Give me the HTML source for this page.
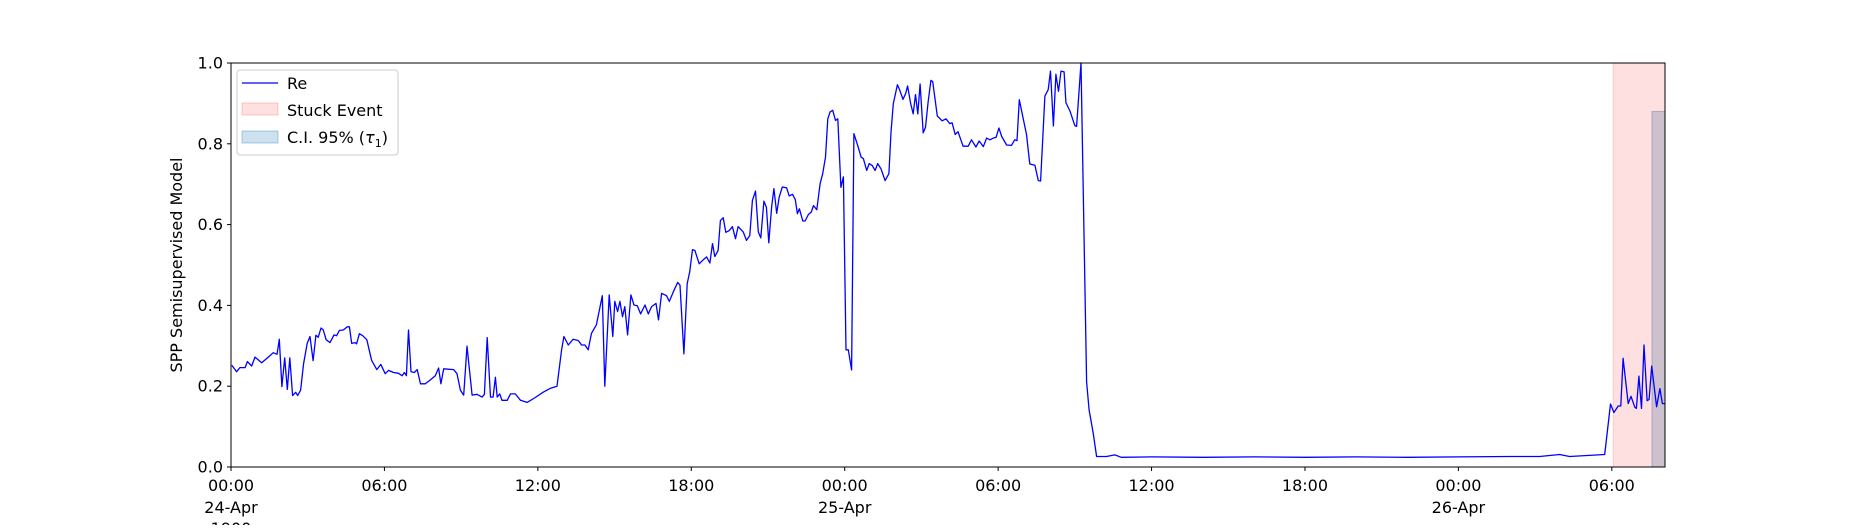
<!DOCTYPE html>
<html><head><meta charset="utf-8"><style>
html,body{margin:0;padding:0;background:#fff;}
svg text{font-family:"DejaVu Sans","Liberation Sans",sans-serif;fill:#000;}
</style></head><body>
<svg id="chart" width="1850" height="525" viewBox="0 0 1850 525" xmlns="http://www.w3.org/2000/svg">
<rect width="1850" height="525" fill="#fff"/>
<g id="bands"></g>
<g id="series"></g>
<g id="axes"></g>
<g id="legend"></g>
</svg>
<script>
const hours = [0.03,0.22,0.35,0.55,0.64,0.81,0.94,1.2,1.46,1.65,1.8,1.89,1.99,2.1,2.2,2.3,2.41,2.53,2.61,2.72,2.84,2.98,3.09,3.21,3.32,3.41,3.52,3.61,3.72,3.87,4.03,4.13,4.24,4.39,4.55,4.63,4.72,4.85,4.91,5.02,5.15,5.31,5.5,5.7,5.86,6.03,6.16,6.36,6.55,6.69,6.78,6.86,6.94,7.04,7.17,7.28,7.41,7.6,7.8,7.99,8.12,8.21,8.32,8.71,8.84,8.97,9.1,9.23,9.43,9.62,9.82,9.91,10.02,10.15,10.25,10.34,10.41,10.51,10.6,10.8,10.93,11.12,11.32,11.58,11.9,12.2,12.5,12.75,12.93,13.02,13.19,13.38,13.58,13.71,13.84,13.97,14.1,14.29,14.52,14.62,14.79,14.93,15.01,15.12,15.21,15.31,15.4,15.51,15.64,15.76,15.89,16.02,16.19,16.32,16.45,16.62,16.72,16.84,17.03,17.14,17.3,17.47,17.56,17.71,17.84,17.94,18.05,18.14,18.31,18.47,18.6,18.73,18.83,18.92,19.05,19.14,19.25,19.35,19.48,19.61,19.73,19.83,20.03,20.16,20.29,20.39,20.51,20.62,20.72,20.84,20.94,21.03,21.14,21.23,21.34,21.44,21.56,21.73,21.83,21.96,22.07,22.15,22.23,22.36,22.45,22.58,22.69,22.78,22.91,23.04,23.14,23.25,23.34,23.43,23.53,23.64,23.73,23.85,23.95,24.05,24.14,24.27,24.36,24.51,24.64,24.73,24.86,24.96,25.08,25.19,25.29,25.42,25.58,25.73,25.81,25.9,26.06,26.16,26.28,26.38,26.46,26.58,26.68,26.77,26.86,26.95,27.07,27.16,27.26,27.37,27.44,27.62,27.81,27.96,28.11,28.2,28.32,28.43,28.63,28.83,28.96,29.13,29.26,29.42,29.55,29.68,29.81,29.92,30.03,30.14,30.33,30.52,30.65,30.74,30.83,31.11,31.24,31.44,31.57,31.66,31.83,31.96,32.05,32.16,32.26,32.36,32.46,32.58,32.65,32.81,33.0,33.07,33.24,33.46,33.56,33.72,33.85,34.24,34.56,34.82,36.0,38.0,40.0,42.0,44.0,46.0,48.0,50.0,51.18,51.96,52.35,53.72,53.95,54.08,54.25,54.35,54.44,54.64,54.75,54.9,54.96,55.06,55.16,55.26,55.38,55.46,55.56,55.75,55.88,55.98,56.08];
const values = [0.252,0.236,0.246,0.246,0.261,0.25,0.272,0.258,0.272,0.283,0.279,0.316,0.199,0.27,0.192,0.27,0.177,0.185,0.177,0.19,0.256,0.306,0.323,0.263,0.326,0.321,0.344,0.339,0.315,0.308,0.327,0.325,0.338,0.339,0.347,0.347,0.306,0.308,0.305,0.33,0.325,0.315,0.264,0.241,0.254,0.231,0.239,0.234,0.232,0.226,0.234,0.226,0.339,0.236,0.234,0.241,0.206,0.206,0.216,0.226,0.245,0.206,0.243,0.241,0.231,0.19,0.178,0.299,0.178,0.18,0.173,0.18,0.32,0.173,0.173,0.222,0.173,0.181,0.165,0.165,0.181,0.181,0.165,0.16,0.172,0.185,0.195,0.2,0.29,0.323,0.302,0.316,0.313,0.302,0.302,0.29,0.331,0.352,0.424,0.2,0.426,0.323,0.41,0.385,0.41,0.372,0.397,0.327,0.426,0.401,0.399,0.379,0.401,0.379,0.397,0.405,0.364,0.43,0.424,0.41,0.434,0.457,0.45,0.28,0.454,0.483,0.538,0.536,0.503,0.513,0.52,0.505,0.553,0.521,0.536,0.61,0.617,0.581,0.585,0.595,0.565,0.595,0.582,0.561,0.573,0.66,0.683,0.582,0.567,0.658,0.643,0.555,0.643,0.689,0.628,0.668,0.693,0.691,0.671,0.675,0.662,0.627,0.639,0.609,0.609,0.625,0.631,0.647,0.637,0.701,0.726,0.767,0.862,0.879,0.883,0.858,0.862,0.692,0.718,0.29,0.29,0.24,0.825,0.796,0.767,0.763,0.734,0.751,0.746,0.734,0.751,0.738,0.709,0.726,0.829,0.899,0.946,0.932,0.91,0.924,0.943,0.899,0.874,0.922,0.874,0.948,0.827,0.841,0.903,0.957,0.954,0.869,0.857,0.862,0.85,0.852,0.823,0.83,0.794,0.794,0.81,0.792,0.807,0.793,0.814,0.81,0.814,0.816,0.839,0.818,0.797,0.796,0.81,0.808,0.909,0.823,0.75,0.747,0.709,0.708,0.918,0.934,0.98,0.844,0.972,0.93,0.98,0.978,0.902,0.881,0.845,0.843,1.0,0.211,0.141,0.084,0.026,0.026,0.03,0.024,0.025,0.024,0.025,0.024,0.025,0.024,0.025,0.026,0.026,0.031,0.026,0.031,0.156,0.135,0.151,0.151,0.269,0.157,0.175,0.148,0.145,0.225,0.145,0.302,0.164,0.167,0.25,0.149,0.194,0.157,0.157];
const stuckEvent = [54.05, 56.08];
const ciBand = [55.57, 56.08, 0.88];
const yTicks = [0,0.2,0.4,0.6,0.8,1.0];
const yTickLabels = ["0.0","0.2","0.4","0.6","0.8","1.0"];
const xTicks = [0,6,12,18,24,30,36,42,48,54];
const xTickLabels = ["00:00","06:00","12:00","18:00","00:00","06:00","12:00","18:00","00:00","06:00"];
const xTickSub = {0:["24-Apr","1900"],24:["25-Apr"],48:["26-Apr"]};

const L=231,R=1665,T=63,B=467,XMAX=56.08;
const NS="http://www.w3.org/2000/svg";
const xs=h=>L+(h/XMAX)*(R-L);
const ys=v=>B-v*(B-T);
function mk(tag,attrs,parent){const e=document.createElementNS(NS,tag);for(const k in attrs)e.setAttribute(k,attrs[k]);parent.appendChild(e);return e;}

const bands=document.getElementById('bands');
const st=mk('rect',{x:xs(stuckEvent[0]),y:T,width:xs(stuckEvent[1])-xs(stuckEvent[0]),height:B-T,fill:'rgba(255,0,0,0.12)',stroke:'rgba(255,0,0,0.15)'},bands);


const ci=mk('rect',{x:xs(ciBand[0]),y:ys(ciBand[2]),width:xs(ciBand[1])-xs(ciBand[0]),height:B-ys(ciBand[2]),fill:'rgba(31,80,140,0.22)',stroke:'rgba(31,80,140,0.3)'},bands);



const series=document.getElementById('series');
let d='';
for(let i=0;i<hours.length;i++){d+=(i?'L':'M')+xs(hours[i]).toFixed(1)+' '+ys(values[i]).toFixed(1);}
const line=mk('path',{d:d,fill:'none',stroke:'#0000ff','stroke-width':1.3,'stroke-linejoin':'round'},series);



const axes=document.getElementById('axes');
const frame=mk('rect',{x:L,y:T,width:R-L,height:B-T,fill:'none',stroke:'#000','stroke-width':1},axes);


yTicks.forEach((v,i)=>{
  mk('line',{x1:L-4,x2:L,y1:ys(v),y2:ys(v),stroke:'#000'},axes);
  const t=mk('text',{x:L-8,y:ys(v)+5.5,'text-anchor':'end','font-size':16},axes);
  t.textContent=yTickLabels[i];
  
  
});
xTicks.forEach((h,i)=>{
  mk('line',{x1:xs(h),x2:xs(h),y1:B,y2:B+4,stroke:'#000'},axes);
  const t=mk('text',{x:xs(h),y:B+24,'text-anchor':'middle','font-size':16},axes);
  t.textContent=xTickLabels[i];
  
  
  (xTickSub[h]||[]).forEach((s,j)=>{
    const u=mk('text',{x:xs(h),y:B+46+j*21,'text-anchor':'middle','font-size':16},axes);
    u.textContent=s;
    
    
  });
});
const yl=mk('text',{x:0,y:0,'text-anchor':'middle','font-size':16,transform:`translate(182,${(T+B)/2}) rotate(-90)`},axes);
yl.textContent='SPP Semisupervised Model';



const lg=document.getElementById('legend');
const box=mk('rect',{x:237,y:70,width:161,height:85,rx:3,fill:'rgba(255,255,255,0.85)',stroke:'#ccc'},lg);


const l1=mk('line',{x1:242,x2:278,y1:83,y2:83,stroke:'#0000ff','stroke-width':1.3},lg);


const r2=mk('rect',{x:242,y:103,width:36,height:12,fill:'rgba(255,0,0,0.12)',stroke:'rgba(255,0,0,0.2)'},lg);


const r3=mk('rect',{x:242,y:131,width:36,height:12,fill:'rgba(31,119,180,0.22)',stroke:'rgba(31,119,180,0.35)'},lg);


[['Re',89,'legend-entry-re'],['Stuck Event',116,'legend-entry-stuck-event'],['C.I. 95% (',143,'legend-entry-ci']].forEach(a=>{
  const t=mk('text',{x:287,y:a[1],'font-size':16},lg);
  t.textContent=a[0];
  
  
  if(a[0].startsWith('C.I.')){
    const tau=mk('tspan',{'font-style':'italic'},t);tau.textContent='τ';
    const sub=mk('tspan',{'font-size':11,dy:4},t);sub.textContent='1';
    const cl=mk('tspan',{dy:-4},t);cl.textContent=')';
  }
});
</script>
</body></html>
